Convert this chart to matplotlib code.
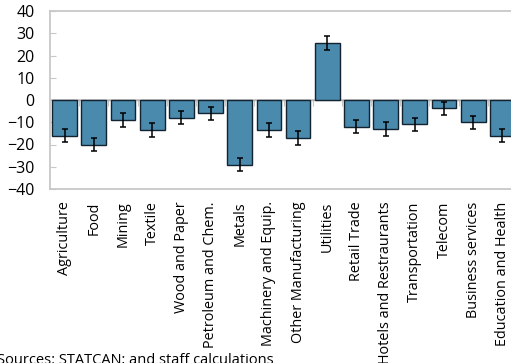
import numpy as np
import matplotlib.pyplot as plt

plt.rcParams['font.family'] = ['Open Sans', 'DejaVu Sans']

sectors = ["Agriculture", "Food", "Mining", "Textile", "Wood and Paper",
           "Petroleum and Chem.", "Metals", "Machinery and Equip.",
           "Other Manufacturing", "Utilities", "Retail Trade",
           "Hotels and Restraurants", "Transportation", "Telecom",
           "Business services", "Education and Health"]
impact = [-16, -20, -9, -13.5, -8, -6, -29, -13.5, -17, 25.6, -12, -13, -11, -3.8, -10, -16]
err = [3, 3, 3, 3, 3, 3, 3, 3, 3, 3, 3, 3, 3, 3, 3, 3]

grey = "#c8c8c8"
fig = plt.figure(figsize=(5.11, 3.63), dpi=100)
ax = fig.add_axes([50 / 511, (363 - 189) / 363, 467 / 511, 178 / 363])

x = np.arange(len(sectors))
ax.axhline(0, color=grey, lw=1.3, zorder=1)
ax.bar(x, impact, width=0.85, color="#4a8aad", edgecolor="#13232f", linewidth=1.0,
       zorder=2)
ax.errorbar(x, impact, yerr=err, fmt="none", ecolor="black", elinewidth=1.1,
            capsize=2, capthick=1.1, zorder=3)

ax.set_xlim(-0.5, len(sectors) - 0.5)
ax.set_ylim(-40, 40)
ax.set_yticks(range(-40, 41, 10))
ax.set_xticks(x)
ax.set_xticklabels(sectors, rotation=90, fontsize=10.4)
ax.tick_params(axis="x", length=0, pad=9)
ax.tick_params(axis="y", direction="in", length=4, color=grey, labelsize=11.5, pad=11)
for s in ax.spines.values():
    s.set_color(grey)
    s.set_linewidth(1.3)

# ticks between categories along the zero line
mid = ax.secondary_xaxis(0.5)
mid.set_xticks(x[:-1] + 0.5)
mid.set_xticklabels([])
mid.tick_params(direction="in", length=4, color=grey)
mid.spines["bottom"].set_visible(False)

fig.text(-0.006, 10 / 363, "Sources: STATCAN; and staff calculations", fontsize=10.5,
         ha="left", va="top")

fig.savefig("out.png", dpi=100)
